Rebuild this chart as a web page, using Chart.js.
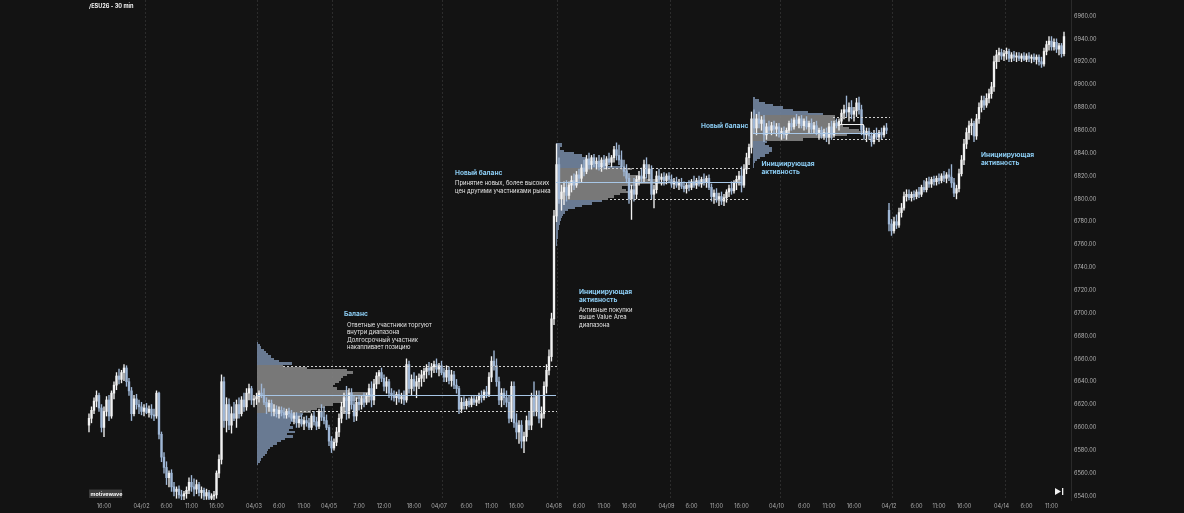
<!DOCTYPE html>
<html>
<head>
<meta charset="utf-8">
<script src="https://cdn.jsdelivr.net/npm/chart.js@4.4.1/dist/chart.umd.min.js"></script>
<style>
  html, body { margin: 0; padding: 0; background: #131313; }
  #wrap { width: 1184px; height: 513px; position: relative; }
</style>
</head>
<body>
<div id="wrap"><canvas id="chart" width="1184" height="513"></canvas></div>
<script>
// 30 min bars, [open, high, low, close], one array per session
const bars0401 = [
  [6602,6612,6596,6608],[6608,6618,6604,6615],[6615,6626,6612,6623],[6623,6632,6618,6628],[6628,6630,6614,6617],
  [6617,6620,6596,6600],[6600,6618,6592,6614],[6614,6627,6610,6624],[6624,6628,6606,6610],[6610,6632,6608,6630],
  [6630,6640,6625,6637],[6637,6648,6633,6645],[6645,6651,6638,6642],[6642,6650,6639,6648],[6648,6655,6641,6652],
  [6652,6654,6636,6640],[6640,6643,6628,6632],[6632,6635,6606,6612],[6612,6628,6610,6625],[6625,6629,6616,6620],
  [6620,6624,6612,6618]
];
const bars0402 = [
  [6618,6622,6611,6614],[6614,6620,6610,6617],[6617,6621,6612,6613],[6613,6619,6609,6616],[6616,6620,6608,6611],
  [6611,6616,6606,6610],[6610,6632,6608,6630],[6630,6631,6590,6594],[6594,6596,6570,6574],[6574,6578,6560,6565],
  [6565,6570,6550,6556],[6556,6562,6548,6560],[6560,6563,6544,6548],[6548,6552,6540,6544],[6544,6548,6538,6546],
  [6546,6549,6538,6541],[6541,6545,6536,6540],[6540,6544,6536,6542],[6542,6548,6538,6545],[6545,6556,6542,6552],
  [6552,6558,6544,6548],[6548,6555,6540,6546],[6546,6554,6542,6550],[6550,6552,6540,6543],[6543,6548,6538,6545],
  [6545,6547,6536,6540],[6540,6546,6537,6543],[6543,6545,6536,6538],[6538,6542,6535,6540],[6540,6544,6536,6541],
  [6541,6562,6538,6560],[6560,6576,6556,6572],[6572,6646,6568,6640],[6640,6644,6600,6606],[6606,6626,6596,6620],
  [6620,6625,6598,6602],[6602,6618,6595,6612],[6612,6622,6606,6608],[6608,6624,6600,6620],[6620,6626,6608,6612],
  [6612,6627,6610,6624],[6624,6630,6614,6618],[6618,6634,6615,6630],[6630,6638,6624,6634],[6634,6636,6620,6624]
];
const bars0403 = [
  [6624,6628,6618,6625],[6625,6630,6620,6627],[6627,6632,6622,6630],[6630,6638,6626,6628],[6628,6634,6620,6622],
  [6622,6626,6612,6618],[6618,6624,6614,6621],[6621,6624,6610,6614],[6614,6620,6610,6616],[6616,6619,6609,6612],
  [6612,6618,6608,6615],[6615,6618,6610,6613],[6613,6617,6608,6611],[6611,6616,6608,6614],[6614,6617,6609,6612],
  [6612,6615,6606,6608],[6608,6613,6603,6610],[6610,6613,6600,6604],[6604,6610,6600,6607],[6607,6611,6601,6603],
  [6603,6609,6598,6606],[6606,6610,6601,6604],[6604,6608,6598,6600],[6600,6612,6598,6610],[6610,6614,6602,6605],
  [6605,6609,6598,6601],[6601,6616,6599,6614],[6614,6620,6606,6609],[6609,6618,6603,6606],[6606,6611,6598,6600]
];
const bars0405 = [
  [6600,6602,6584,6588],[6588,6592,6578,6582],[6582,6590,6580,6587],[6587,6600,6584,6596],[6596,6612,6592,6608],
  [6608,6622,6604,6618],[6618,6630,6612,6626],[6626,6636,6607,6612],[6612,6634,6608,6630],[6630,6634,6616,6620],
  [6620,6628,6605,6610],[6610,6626,6606,6622],[6622,6627,6615,6620],[6620,6628,6616,6625],[6625,6630,6618,6622],
  [6622,6630,6620,6628],[6628,6638,6622,6634],[6634,6640,6618,6624],[6624,6642,6620,6638],[6638,6648,6634,6645],
  [6645,6650,6638,6648],[6648,6652,6640,6643],[6643,6646,6632,6636],[6636,6644,6630,6640],[6640,6642,6626,6630],
  [6630,6634,6624,6628],[6628,6632,6623,6626],[6626,6631,6620,6629],[6629,6633,6622,6625],[6625,6630,6621,6627],
  [6627,6632,6620,6624],[6624,6660,6622,6655],[6655,6658,6630,6634],[6634,6646,6628,6642],[6642,6648,6632,6636],
  [6636,6645,6626,6640],[6640,6647,6634,6643],[6643,6650,6636,6646],[6646,6652,6640,6649],[6649,6655,6643,6652],
  [6652,6657,6646,6650],[6650,6656,6644,6653],[6653,6658,6648,6655],[6655,6660,6648,6651]
];
const bars0407 = [
  [6651,6656,6645,6654],[6654,6658,6646,6648],[6648,6652,6640,6644],[6644,6654,6640,6650],[6650,6653,6638,6641],
  [6641,6650,6636,6646],[6646,6649,6634,6637],[6637,6642,6630,6634],[6634,6636,6612,6616],[6616,6626,6613,6622],
  [6622,6627,6616,6619],[6619,6625,6616,6623],[6623,6626,6618,6620],[6620,6627,6618,6625],[6625,6628,6620,6622],
  [6622,6627,6619,6624],[6624,6630,6621,6628],[6628,6632,6622,6626],[6626,6633,6624,6631],[6631,6636,6626,6629],
  [6629,6648,6627,6644],[6644,6662,6640,6658],[6658,6667,6650,6654],[6654,6660,6636,6640],[6640,6644,6620,6624],
  [6624,6634,6618,6630],[6630,6634,6620,6626],[6626,6632,6618,6622],[6622,6628,6604,6608],[6608,6640,6605,6636],
  [6636,6640,6600,6604],[6604,6612,6590,6596],[6596,6606,6586,6602],[6602,6606,6582,6588],[6588,6596,6578,6592],
  [6592,6610,6588,6606],[6606,6614,6598,6602],[6602,6630,6598,6626],[6626,6640,6610,6614],[6614,6632,6610,6628],
  [6628,6632,6604,6608],[6608,6618,6600,6612],[6612,6640,6608,6636],[6636,6655,6630,6650],[6650,6668,6646,6662],
  [6662,6700,6658,6695]
];
const bars0408 = [
  [6695,6790,6690,6785],[6785,6848,6780,6830],[6830,6836,6796,6800],[6800,6812,6790,6806],[6806,6815,6795,6810],
  [6810,6816,6798,6803],[6803,6815,6800,6812],[6812,6820,6806,6816],[6816,6822,6808,6812],[6812,6824,6810,6821],
  [6821,6826,6814,6818],[6818,6830,6815,6827],[6827,6834,6820,6824],[6824,6838,6822,6835],[6835,6840,6826,6830],
  [6830,6838,6826,6836],[6836,6839,6828,6831],[6831,6836,6826,6833],[6833,6838,6825,6828],[6828,6836,6824,6834],
  [6834,6838,6826,6829],[6829,6837,6826,6835],[6835,6840,6830,6832],[6832,6838,6828,6836],[6836,6846,6832,6843],
  [6843,6849,6834,6838],[6838,6847,6830,6834],[6834,6842,6826,6828],[6828,6834,6820,6824],[6824,6830,6814,6818],
  [6818,6822,6796,6800],[6800,6812,6782,6808],[6808,6818,6798,6804],[6804,6820,6800,6817],[6817,6824,6812,6820],
  [6820,6827,6814,6818],[6818,6834,6815,6830],[6830,6836,6818,6822],[6822,6830,6816,6826],[6826,6829,6800,6804],
  [6804,6812,6792,6808],[6808,6824,6805,6820],[6820,6826,6814,6817],[6817,6822,6812,6819]
];
const bars0409 = [
  [6819,6823,6812,6816],[6816,6822,6813,6820],[6820,6823,6814,6817],[6817,6821,6810,6813],[6813,6818,6809,6815],
  [6815,6819,6810,6812],[6812,6817,6808,6814],[6814,6818,6809,6811],[6811,6815,6806,6809],[6809,6814,6805,6812],
  [6812,6816,6807,6810],[6810,6817,6808,6815],[6815,6820,6810,6812],[6812,6818,6809,6816],[6816,6820,6811,6813],
  [6813,6819,6810,6817],[6817,6822,6812,6815],[6815,6820,6810,6818],[6818,6821,6808,6810],[6810,6813,6798,6802],
  [6802,6808,6796,6805],[6805,6809,6797,6799],[6799,6805,6794,6802],[6802,6806,6795,6798],[6798,6804,6794,6801],
  [6801,6808,6797,6806],[6806,6812,6802,6809],[6809,6815,6804,6807],[6807,6816,6805,6814],[6814,6820,6808,6817],
  [6817,6824,6812,6820],[6820,6828,6806,6812],[6812,6830,6810,6826],[6826,6840,6822,6836],[6836,6848,6830,6845],
  [6845,6876,6840,6870],[6870,6878,6858,6862],[6862,6874,6856,6870],[6870,6876,6862,6866],[6866,6872,6860,6869],
  [6869,6873,6850,6856],[6856,6866,6852,6863],[6863,6868,6857,6860],[6860,6867,6856,6864]
];
const bars0410 = [
  [6864,6868,6858,6861],[6861,6866,6855,6863],[6863,6866,6854,6857],[6857,6862,6852,6859],[6859,6863,6853,6856],
  [6856,6862,6852,6860],[6860,6868,6858,6866],[6866,6870,6860,6863],[6863,6871,6861,6869],[6869,6874,6864,6866],
  [6866,6872,6862,6870],[6870,6873,6862,6864],[6864,6870,6860,6868],[6868,6872,6861,6863],[6863,6868,6858,6866],
  [6866,6870,6858,6861],[6861,6867,6857,6864],[6864,6868,6856,6858],[6858,6862,6852,6860],[6860,6863,6853,6855],
  [6855,6861,6852,6858],[6858,6862,6850,6854],[6854,6866,6848,6863],[6863,6868,6852,6856],[6856,6868,6854,6866],
  [6866,6870,6862,6864],[6864,6870,6860,6868],[6868,6878,6865,6875],[6875,6882,6870,6878],[6878,6890,6872,6876],
  [6876,6884,6868,6880],[6880,6886,6870,6874],[6874,6880,6868,6877],[6877,6888,6872,6884],[6884,6889,6874,6878],
  [6878,6882,6856,6860],[6860,6864,6852,6856],[6856,6862,6850,6859],[6859,6862,6852,6855],[6855,6858,6846,6850],
  [6850,6860,6848,6857],[6857,6862,6852,6854],[6854,6860,6850,6858],[6858,6862,6852,6856],[6856,6864,6854,6862],
  [6862,6866,6857,6860]
];
const bars0412 = [
  [6790,6796,6772,6778],[6778,6782,6768,6772],[6772,6784,6770,6780],[6780,6786,6774,6777],[6777,6792,6775,6788],
  [6788,6796,6784,6792],[6792,6806,6790,6802],[6802,6808,6798,6804],[6804,6808,6799,6801],[6801,6806,6798,6804],
  [6804,6807,6799,6802],[6802,6808,6800,6806],[6806,6810,6801,6804],[6804,6812,6802,6810],[6810,6816,6806,6808],
  [6808,6818,6806,6815],[6815,6819,6810,6813],[6813,6819,6810,6817],[6817,6820,6812,6815],[6815,6820,6812,6818],
  [6818,6822,6813,6816],[6816,6822,6814,6820],[6820,6824,6815,6818],[6818,6823,6814,6821],[6821,6826,6816,6819],
  [6819,6830,6810,6814],[6814,6818,6802,6805],[6805,6812,6800,6809],[6809,6826,6806,6822],[6822,6838,6820,6834],
  [6834,6852,6830,6848],[6848,6862,6844,6858],[6858,6868,6852,6864],[6864,6870,6856,6866],[6866,6868,6850,6855],
  [6855,6874,6852,6870],[6870,6884,6866,6880],[6880,6890,6876,6886],[6886,6890,6878,6882],[6882,6892,6880,6888],
  [6888,6896,6884,6892],[6892,6902,6888,6898],[6898,6925,6894,6920],[6920,6930,6914,6926]
];
const bars0414 = [
  [6926,6932,6920,6928],[6928,6931,6922,6925],[6925,6930,6921,6927],[6927,6932,6922,6929],[6929,6931,6920,6923],
  [6923,6928,6920,6926],[6926,6929,6921,6924],[6924,6928,6920,6925],[6925,6928,6921,6923],[6923,6927,6920,6925],
  [6925,6928,6921,6922],[6922,6927,6920,6925],[6925,6928,6920,6923],[6923,6926,6919,6924],[6924,6927,6920,6922],
  [6922,6926,6918,6924],[6924,6926,6917,6920],[6920,6924,6915,6918],[6918,6932,6916,6929],[6929,6938,6926,6935],
  [6935,6942,6930,6938],[6938,6942,6930,6933],[6933,6940,6930,6937],[6937,6940,6928,6931],[6931,6936,6926,6934],
  [6934,6936,6924,6927],[6927,6946,6925,6942]
];

// x tick labels (bar index -> text)
const tickIdx = [6, 21, 31, 41, 51, 66, 76, 86, 96, 108, 118, 130, 140, 151, 161, 171, 186, 196, 206, 216,
  231, 241, 251, 261, 275, 286, 296, 306, 320, 331, 340, 350, 365, 375, 385];
const tickText = ['16:00', '04/02', '6:00', '11:00', '16:00', '04/03', '6:00', '11:00', '04/05', '7:00', '12:00', '18:00',
  '04/07', '6:00', '11:00', '16:00', '04/08', '6:00', '11:00', '16:00', '04/09', '6:00', '11:00', '16:00',
  '04/10', '6:00', '11:00', '16:00', '04/12', '6:00', '11:00', '16:00', '04/14', '6:00', '11:00'];
const priceTicks = [6540, 6560, 6580, 6600, 6620, 6640, 6660, 6680, 6700, 6720, 6740, 6760, 6780, 6800,
  6820, 6840, 6860, 6880, 6900, 6920, 6940, 6960];

// volume profiles, 2 pt rows from the top price downwards
const profileVolA = [1,3,4,7,9,11,14,17,22,35,26,50,90,96,90,86,84,82,78,76,80,92,112,116,110,100,86,76,68,60,
  54,46,44,42,38,34,33,36,32,38,30,36,28,24,20,16,13,11,10,8,6,4,3,1];
const profileVolB = [6,6,4,8,18,26,30,34,38,50,66,76,72,74,82,90,104,110,80,66,70,76,64,58,52,46,36,26,19,12,
  9,7,6,5,4,4,3,3,2,2,2,2,1,1,1];
const profileVolC = [2,6,12,20,30,40,55,70,82,82,84,86,90,96,106,112,94,80,50,14,12,16,19,19,16,12,7,4,2,1,1];
const profileTop = [6674, 6848, 6888];
const profileVAH = [6654, 6827, 6872];
const profileVAL = [6614, 6800, 6852];
const profilePOC = [6628, 6815, 6858];

const bars = [].concat(bars0401, bars0402, bars0403, bars0405, bars0407, bars0408, bars0409, bars0410, bars0412, bars0414);

const UP = '#f2f2f2';
const DOWN = '#9fb7d6';
const candleColors = bars.map(b => b[3] >= b[0] ? UP : DOWN);

// where each profile and its level lines sit, in bar-index units
const profileLayout = [
  { start: 67.2, vahFrom: 77.6, valFrom: 84.4, to: 187.2, pocTo: 186.8 },
  { start: 186.8, vahFrom: 204.4, valFrom: 208.4, to: 264.4, pocTo: 261.2 },
  { start: 265.6, vahFrom: 297.6, valFrom: 297.6, to: 320.4, pocTo: 316.4 }
];
// small white bracket drawn inside the last profile
const bracket = { from: 299.6, to: 309.6, top: 6865.5, bottom: 6858 };
const profileVols = [profileVolA, profileVolB, profileVolC];
const ROW = 2;
const VOL_SCALE = 0.4;

const notes = [
  { x: 344, y: 314, title: ['Баланс'], body: ['Ответные участники торгуют', 'внутри диапазона', 'Долгосрочный участник', 'накапливает позицию'], bodyX: 347, bodyY: 325 },
  { x: 455, y: 173, title: ['Новый баланс'], body: ['Принятие новых, более высоких', 'цен другими участниками рынка'], bodyX: 455, bodyY: 183.5 },
  { x: 579, y: 292.5, title: ['Инициирующая', 'активность'], body: ['Активные покупки', 'выше Value Area', 'диапазона'], bodyX: 579, bodyY: 310 },
  { x: 701, y: 126, title: ['Новый баланс'], body: [] },
  { x: 761.5, y: 164, title: ['Инициирующая', 'активность'], body: [] },
  { x: 981, y: 155, title: ['Инициирующая', 'активность'], body: [] }
];

const overlayPlugin = {
  id: 'overlay',
  beforeDatasetsDraw(chart) {
    const { ctx, chartArea, scales: { x, y } } = chart;
    ctx.save();
    // date separators
    ctx.strokeStyle = '#2c2c2c';
    ctx.lineWidth = 1;
    ctx.setLineDash([2, 2]);
    tickIdx.forEach((v, i) => {
      if (tickText[i].indexOf('/') < 0) return;
      const px = Math.round(x.getPixelForValue(v + 1.2)) + 0.5;
      ctx.beginPath();
      ctx.moveTo(px, chartArea.top);
      ctx.lineTo(px, chartArea.bottom);
      ctx.stroke();
    });
    ctx.setLineDash([]);
    // profiles
    profileVols.forEach((vols, k) => {
      const lay = profileLayout[k];
      const x1 = Math.round(x.getPixelForValue(lay.start));
      vols.forEach((v, r) => {
        const p = profileTop[k] - r * ROW;
        const y1 = Math.round(y.getPixelForValue(p + ROW / 2));
        const y2 = Math.round(y.getPixelForValue(p - ROW / 2));
        const x2 = Math.round(x.getPixelForValue(lay.start + v * VOL_SCALE));
        const inVA = p <= profileVAH[k] && p >= profileVAL[k];
        ctx.fillStyle = inVA ? 'rgba(128,128,128,0.93)' : 'rgba(112,130,156,0.93)';
        ctx.fillRect(x1, y1, Math.max(1, x2 - x1), y2 - y1);
      });
    });
    ctx.restore();
  },
  afterDatasetsDraw(chart) {
    const { ctx, scales: { x, y } } = chart;
    ctx.save();
    profileLayout.forEach((lay, k) => {
      const pocY = Math.round(y.getPixelForValue(profilePOC[k])) + 0.5;
      ctx.strokeStyle = '#a7c6e6';
      ctx.lineWidth = 1;
      ctx.setLineDash([]);
      ctx.beginPath();
      ctx.moveTo(x.getPixelForValue(lay.start), pocY);
      ctx.lineTo(x.getPixelForValue(lay.pocTo), pocY);
      ctx.stroke();

      ctx.strokeStyle = '#cfcfcf';
      ctx.setLineDash([2, 2]);
      const vahY = Math.round(y.getPixelForValue(profileVAH[k])) + 0.5;
      const valY = Math.round(y.getPixelForValue(profileVAL[k])) + 0.5;
      ctx.beginPath();
      ctx.moveTo(x.getPixelForValue(lay.vahFrom), vahY);
      ctx.lineTo(x.getPixelForValue(lay.to), vahY);
      ctx.moveTo(x.getPixelForValue(lay.valFrom), valY);
      ctx.lineTo(x.getPixelForValue(lay.to), valY);
      ctx.stroke();
    });
    // bracket
    ctx.setLineDash([]);
    ctx.strokeStyle = '#f0f0f0';
    ctx.lineWidth = 1;
    const bt = Math.round(y.getPixelForValue(bracket.top)) + 0.5;
    const bb = Math.round(y.getPixelForValue(bracket.bottom)) + 0.5;
    const br = Math.round(x.getPixelForValue(bracket.to)) + 0.5;
    ctx.beginPath();
    ctx.moveTo(x.getPixelForValue(bracket.from), bt);
    ctx.lineTo(br, bt);
    ctx.lineTo(br, bb);
    ctx.stroke();
    ctx.restore();
  },
  afterDraw(chart) {
    const { ctx } = chart;
    ctx.save();
    ctx.textBaseline = 'middle';
    ctx.textAlign = 'left';
    notes.forEach(n => {
      ctx.fillStyle = '#8ccdf4';
      ctx.font = 'bold 6.6px Inter, "DejaVu Sans", sans-serif';
      n.title.forEach((t, i) => ctx.fillText(t, n.x, n.y + i * 8));
      ctx.fillStyle = '#e4e4e4';
      ctx.font = '5.9px Inter, "DejaVu Sans", sans-serif';
      n.body.forEach((t, i) => ctx.fillText(t, n.bodyX, n.bodyY + i * 7.4));
    });

    // header
    ctx.fillStyle = '#f0f0f0';
    ctx.font = 'bold 5.6px Inter, "DejaVu Sans", sans-serif';
    ctx.fillText('/ESU26 - 30 min', 89, 6.5);

    // badge
    ctx.fillStyle = '#3c3c3c';
    ctx.fillRect(89, 489.5, 33, 8.5);
    ctx.fillStyle = '#f4f4f4';
    ctx.font = 'bold 5.4px Inter, "DejaVu Sans", sans-serif';
    ctx.fillText('motivewave', 90.5, 494);

    // scroll-to-end icon
    ctx.fillStyle = '#f0f0f0';
    ctx.beginPath();
    ctx.moveTo(1055, 488);
    ctx.lineTo(1061, 491.5);
    ctx.lineTo(1055, 495);
    ctx.closePath();
    ctx.fill();
    ctx.fillRect(1062, 488, 1.3, 7);
    ctx.restore();
  }
};

new Chart(document.getElementById('chart'), {
  type: 'bar',
  data: {
    datasets: [
      {
        label: 'wicks',
        data: bars.map((b, i) => ({ x: i, y: [b[2], b[1]] })),
        backgroundColor: candleColors,
        barThickness: 0.7,
        grouped: false,
        order: 2
      },
      {
        label: 'bodies',
        data: bars.map((b, i) => ({ x: i, y: [b[0], b[3]] })),
        backgroundColor: candleColors,
        barThickness: 1.7,
        minBarLength: 1,
        grouped: false,
        order: 1
      }
    ]
  },
  options: {
    responsive: false,
    animation: false,
    devicePixelRatio: 1,
    layout: { padding: 0 },
    plugins: { legend: { display: false }, tooltip: { enabled: false } },
    scales: {
      x: {
        type: 'linear',
        min: -35.6,
        max: 392.8,
        offset: false,
        grid: { display: false, drawTicks: false },
        border: { display: false },
        afterBuildTicks: scale => { scale.ticks = tickIdx.map(v => ({ value: v })); },
        afterFit: scale => { scale.height = 13; scale.paddingLeft = 0; scale.paddingRight = 0; },
        ticks: {
          autoSkip: false,
          maxRotation: 0,
          padding: 3,
          color: '#a9a9a9',
          font: { family: 'Inter, "DejaVu Sans", sans-serif', size: 5.6 },
          callback: v => tickText[tickIdx.indexOf(v)] || ''
        }
      },
      y: {
        position: 'right',
        min: 6536.5,
        max: 6974,
        grid: { display: false, drawTicks: false },
        border: { display: true, color: '#2a2a2a' },
        afterBuildTicks: scale => { scale.ticks = priceTicks.map(v => ({ value: v })); },
        afterFit: scale => { scale.width = 113; scale.paddingTop = 0; scale.paddingBottom = 0; },
        ticks: {
          padding: 3,
          color: '#b4b4b4',
          font: { family: 'Inter, "DejaVu Sans", sans-serif', size: 5.6 },
          callback: v => Number(v).toFixed(2)
        }
      }
    }
  },
  plugins: [overlayPlugin]
});
</script>
</body>
</html>
